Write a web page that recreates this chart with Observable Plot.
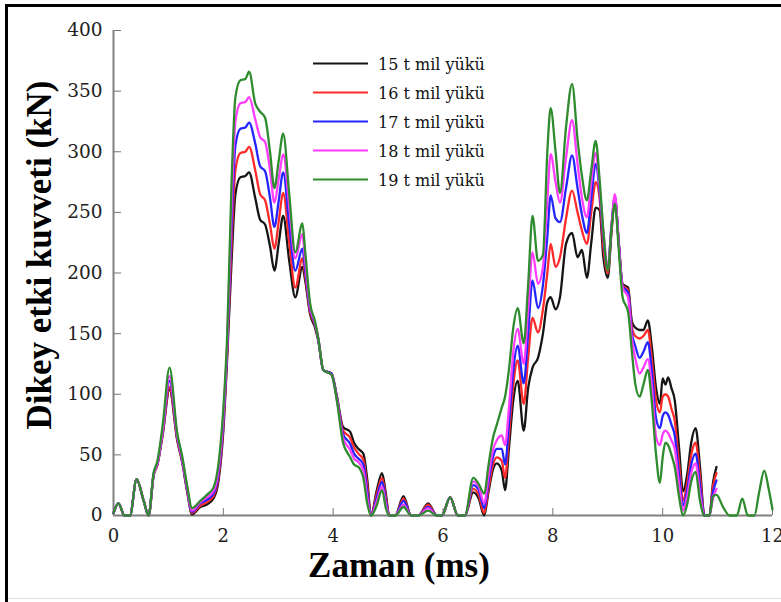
<!DOCTYPE html>
<html><head><meta charset="utf-8">
<script src="https://cdn.jsdelivr.net/npm/d3@7"></script>
<script src="https://cdn.jsdelivr.net/npm/@observablehq/plot@0.6"></script>
<style>
body{margin:0;background:#fff;}
#chart svg{display:block;}
</style></head><body><div id="chart"></div>
<script>
// Time (ms)
const time = [
 0,0.09,0.2,0.3,0.42,0.55,0.64,0.73,0.8,0.9,
 1.02,1.16,1.25,1.34,1.43,1.58,1.7,1.82,1.91,2.0,
 2.07,2.15,2.22,2.31,2.4,2.47,2.58,2.67,2.76,2.85,
 2.93,3.01,3.09,3.2,3.31,3.44,3.49,3.58,3.67,3.73,
 3.82,3.97,4.07,4.18,4.31,4.38,4.46,4.55,4.62,4.69,
 4.79,4.89,4.96,5.02,5.13,5.28,5.42,5.55,5.73,5.89,
 5.98,6.13,6.27,6.4,6.55,6.65,6.75,6.83,6.91,6.98,
 7.07,7.13,7.2,7.28,7.36,7.47,7.55,7.63,7.73,7.82,
 7.9,7.96,8.05,8.13,8.24,8.35,8.45,8.53,8.62,8.7,
 8.78,8.85,8.92,9.0,9.07,9.13,9.2,9.27,9.37,9.44,
 9.5,9.58,9.65,9.73,9.8,9.88,9.95,10.0,10.05,10.1,
 10.16,10.22,10.3,10.37,10.45,10.52,10.6,10.68,10.76,10.85,
 10.92,10.98,11.1,11.22,11.35,11.45,11.55,11.67,11.76,11.85,
 11.93,12.0];

// Vertical force (kN) for each axle load
const load15 = [
 2,10,0,0,30,12,0,33,42,68,
 104,62,44,20,1,7,9,14,28,70,
 130,210,265,279,280,283,262,244,240,222,
 202,225,247,210,180,205,194,166,155,144,
 120,117,98,73,69,60,55,51,30,0,
 20,35,18,0,0,16,0,0,10,0,
 0,15,0,0,19,14,0,20,38,43,
 37,21,55,95,111,70,105,122,130,150,
 176,180,170,180,224,233,213,219,196,225,
 254,252,213,196,235,262,225,191,188,160,
 155,153,153,161,140,105,92,113,108,114,
 105,95,55,20,35,60,72,40,0,0,
 28,40,null,null,null,null,null,null,null,null,
 null,null];
const load16 = [
 2,10,0,0,30,12,0,33,42,69,
 106,63,45,21,2,8,11,16,31,74,
 134,225,285,299,300,304,285,265,260,240,
 220,243,266,225,188,212,198,168,157,145,
 120,117,97,70,64,56,51,46,25,0,
 17,31,15,0,0,14,0,0,9,0,
 0,15,0,0,22,17,2,23,42,48,
 45,31,65,108,128,92,130,163,151,170,
 200,224,205,213,245,268,250,235,224,250,
 275,262,222,200,237,262,225,190,186,155,
 148,146,148,153,130,95,85,98,100,98,
 88,78,42,12,28,50,60,32,0,0,
 25,35,null,null,null,null,null,null,null,null,
 null,null];
const load17 = [
 2,10,0,0,30,12,0,34,43,71,
 111,65,46,22,3,10,13,18,34,78,
 138,240,305,319,320,324,307,288,284,262,
 238,260,283,240,202,220,203,170,158,145,
 120,117,96,67,59,51,47,42,20,0,
 14,28,12,0,0,12,0,0,7,0,
 0,15,0,0,25,21,6,28,48,55,
 55,42,75,120,140,109,150,194,171,190,
 230,264,245,242,270,297,270,248,233,262,
 290,268,230,203,240,263,225,189,184,150,
 140,130,135,143,120,80,72,82,85,83,
 75,66,33,8,22,42,51,25,0,0,
 20,29,null,null,null,null,null,null,null,null,
 null,null];
const load18 = [
 2,10,0,0,30,12,0,34,43,72,
 115,66,47,23,4,11,15,20,37,82,
 142,255,325,340,341,345,327,312,308,285,
 258,278,298,255,212,232,210,172,159,146,
 120,116,95,64,54,47,44,37,15,0,
 11,24,9,0,0,9,0,0,6,0,
 0,15,0,0,28,24,10,33,54,62,
 66,58,88,135,154,125,170,217,191,205,
 260,298,275,258,295,326,290,262,246,275,
 299,272,235,205,240,265,224,188,180,145,
 130,117,122,129,108,65,58,67,70,68,
 62,55,25,4,17,35,43,18,0,0,
 15,22,null,null,null,null,null,null,null,null,
 null,null];
const load19 = [
 2,10,0,0,30,12,0,35,45,76,
 122,68,49,25,6,12,17,23,42,88,
 148,275,345,359,360,366,340,333,328,300,
 270,293,315,265,217,241,218,175,160,146,
 120,116,94,60,48,42,40,31,10,0,
 8,21,6,0,0,7,0,0,4,0,
 0,15,0,0,31,26,18,42,64,75,
 89,98,120,155,171,142,190,247,210,215,
 300,336,300,266,320,356,310,280,260,285,
 309,278,235,202,238,257,220,180,168,135,
 109,98,108,120,95,50,27,48,60,58,
 50,40,15,0,10,28,36,12,0,0,
 16,17,7,0,0,14,0,0,20,37,
 22,5];

const seriesNames = ["15 t mil yükü","16 t mil yükü","17 t mil yükü","18 t mil yükü","19 t mil yükü"];
const seriesColors = ["#151515","#ff2a2a","#2424ff","#ff3cff","#2e8b2e"];
const xTicks = [0,2,4,6,8,10,12];
const yTicks = [0,50,100,150,200,250,300,350,400];
const xTitle = "Zaman (ms)";
const yTitle = "Dikey etki kuvveti (kN)";

const allSeries = [load15, load16, load17, load18, load19];
const rows = [];
allSeries.forEach((vals, i) => vals.forEach((v, j) => rows.push({t: time[j], v: v, s: seriesNames[i]})));

const plot = Plot.plot({
  width: 781, height: 602,
  marginLeft: 113, marginRight: 9, marginTop: 30, marginBottom: 87,
  x: {domain: [0, 12]},
  y: {domain: [0, 400]},
  color: {domain: seriesNames, range: seriesColors},
  style: {fontFamily: "'DejaVu Serif', serif", fontSize: "18px", color: "#222", background: "#fff", overflow: "visible"},
  marks: [
    Plot.axisX({ticks: xTicks, tickSize: -7, tickPadding: 21, stroke: "#777", label: null, fontSize: 18}),
    Plot.axisY({ticks: yTicks, tickSize: -8, tickPadding: 19, stroke: "#777", label: null, fontSize: 18.5}),
    Plot.ruleY([0], {stroke: "#808080", strokeWidth: 2}),
    Plot.ruleX([0], {stroke: "#808080", strokeWidth: 2}),
    Plot.line(rows, {x: "t", y: "v", z: "s", stroke: "s", strokeWidth: 2.3, curve: "monotone-x"})
  ]
});
document.getElementById("chart").appendChild(plot);

const svg = d3.select(plot);
// axis titles
svg.append("text").text(xTitle)
  .attr("x", 399).attr("y", 577)
  .attr("text-anchor", "middle")
  .style("font-family", "'Liberation Serif', 'Times New Roman', serif")
  .style("font-weight", "bold").style("font-size", "35px").attr("fill", "#000");
svg.append("text").text(yTitle)
  .attr("transform", "translate(51,255) rotate(-90)")
  .attr("text-anchor", "middle")
  .style("font-family", "'Liberation Serif', 'Times New Roman', serif")
  .style("font-weight", "bold").style("font-size", "35px").attr("fill", "#000");

// legend
const leg = svg.append("g");
seriesNames.forEach((name, i) => {
  const yy = 63.5 + i * 29;
  leg.append("line").attr("x1", 313).attr("x2", 368).attr("y1", yy).attr("y2", yy)
    .attr("stroke", seriesColors[i]).attr("stroke-width", 2);
  leg.append("text").text(name).attr("x", 378).attr("y", yy + 6)
    .attr("text-anchor", "start")
    .style("font-family", "'DejaVu Serif', serif").style("font-size", "16px").attr("fill", "#111");
});

// image frame
svg.append("line").attr("x1", 5).attr("x2", 781).attr("y1", 5.5).attr("y2", 5.5).attr("stroke", "#000").attr("stroke-width", 3);
svg.append("line").attr("x1", 6.5).attr("x2", 6.5).attr("y1", 5).attr("y2", 602).attr("stroke", "#000").attr("stroke-width", 3);
svg.append("line").attr("x1", 8).attr("x2", 781).attr("y1", 598.5).attr("y2", 598.5).attr("stroke", "#ddd").attr("stroke-width", 1);
</script></body></html>
